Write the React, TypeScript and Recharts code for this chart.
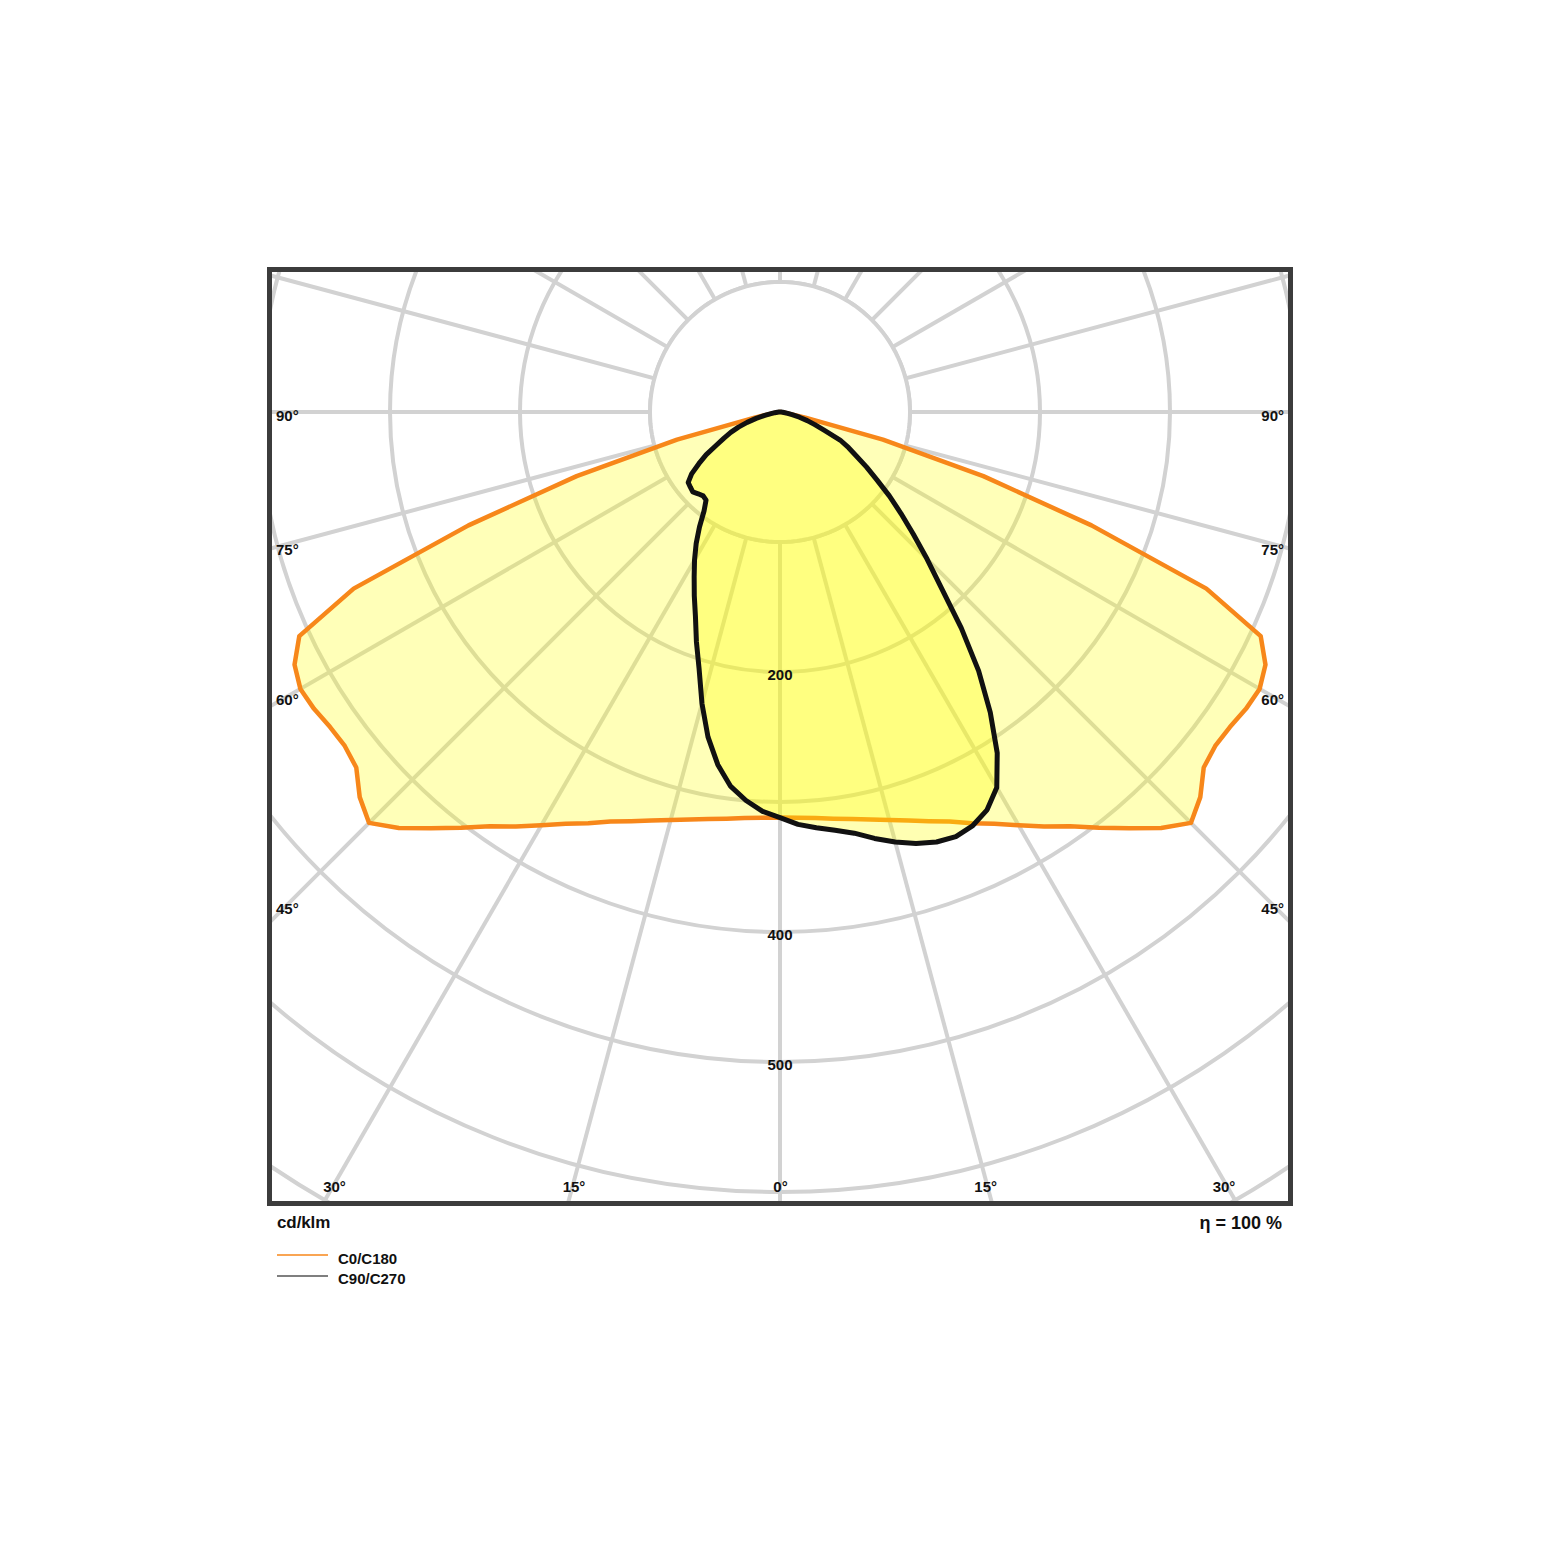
import React from 'react'
import { RadarChart, Radar, PolarGrid, PolarAngleAxis, PolarRadiusAxis } from 'recharts'

// luminous intensity in cd/klm, gamma 0..180 in 2.5 deg steps (0 = nadir)
const gammaStep = 2.5

// C0 half plane (drawn to the left) and C180 (to the right): symmetric
const c0 = [
  312, 312.5, 313.5, 315.5, 318, 321, 325, 329.5, 335, 341, 349, 357, 367, 378, 389, 403, 418, 434,
  447, 438.5, 425.5, 422, 422.5, 425, 426, 421, 408, 355, 255, 164, 82, 20, 6, 3, 1, 0, 0,
  0, 0, 0, 0, 0, 0, 0, 0, 0, 0, 0, 0, 0, 0, 0, 0, 0, 0, 0, 0, 0, 0, 0, 0, 0, 0, 0, 0, 0, 0, 0, 0, 0, 0, 0, 0,
]
const c180 = c0

// C90 half plane (left) and C270 (right)
const c90 = [
  312, 307.5, 300, 290.5, 275.5, 256, 232, 207, 188, 170, 156, 143, 131.5, 120, 108, 96, 88.5, 87.5,
  89, 91, 90, 89, 83, 74, 65.5, 55, 47.5, 41, 34, 26.5, 19, 12, 7, 4, 2, 1, 0,
  0, 0, 0, 0, 0, 0, 0, 0, 0, 0, 0, 0, 0, 0, 0, 0, 0, 0, 0, 0, 0, 0, 0, 0, 0, 0, 0, 0, 0, 0, 0, 0, 0, 0, 0, 0,
]
const c270 = [
  312, 317.5, 321, 324.5, 329, 336, 342.5, 348, 352, 353.5, 351, 345, 333.5, 311, 282, 251, 217, 184,
  160, 139, 121.5, 106, 91, 79, 68, 59.5, 51, 37, 28.5, 22, 15.5, 9.5, 6, 3, 2, 1, 0,
  0, 0, 0, 0, 0, 0, 0, 0, 0, 0, 0, 0, 0, 0, 0, 0, 0, 0, 0, 0, 0, 0, 0, 0, 0, 0, 0, 0, 0, 0, 0, 0, 0, 0, 0, 0,
]

const rayAngles = [0, 15, 30, 45, 60, 75, 90, 105, 120, 135, 150, 165, 180, 195, 210, 225, 240, 255, 270, 285, 300, 315, 330, 345]
const radiusMax = 700
const innerRing = 100
const radiusLabels = [200, 400, 500]
const sideLabels = ['90°', '75°', '60°', '45°']
const bottomLabels = ['30°', '15°', '0°', '15°', '30°']

const rows = Array.from({ length: 144 }, (_, i) => {
  const left = i <= 72
  const j = left ? i : 144 - i
  return {
    gamma: i * gammaStep,
    ring: innerRing,
    c0c180: left ? c0[j] : c180[j],
    c90c270: left ? c90[j] : c270[j],
  }
})

const font = '"Liberation Sans", Arial, Helvetica, sans-serif'
const ORANGE = '#f7871a'
const GRID = '#d2d2d2'

// nadir at the bottom, gamma grows clockwise: recharts angle = -90 - gamma
const toChartAngle = (g: number) => -90 - g

const sideY = [415, 549, 699, 908]
const bottomX = [334.5, 574, 780.5, 985.7, 1224]

function RadiusTick(props: any) {
  const v = props.payload?.value
  if (!radiusLabels.includes(v)) return <g />
  return (
    <text
      x={props.x}
      y={props.y + 2}
      textAnchor="middle"
      dominantBaseline="central"
      fontFamily={font}
      fontWeight="bold"
      fontSize={15}
      fill="#111"
    >
      {v}
    </text>
  )
}

export default function App() {
  return (
    <div style={{ position: 'relative', width: 1544, height: 1440 }}>
      <div style={{ position: 'absolute', left: 264, top: 264, width: 1016, height: 929 }}>
        <RadarChart
          width={1016}
          height={929}
          data={rows}
          cx={508}
          cy={140}
          outerRadius={910}
          startAngle={-90}
          endAngle={-450}
          margin={{ top: 0, right: 0, bottom: 0, left: 0 }}
        >
          <PolarGrid
            gridType="circle"
            polarAngles={rayAngles.map(toChartAngle)}
            stroke={GRID}
            strokeWidth={4}
          />
          <PolarAngleAxis dataKey="gamma" tick={false} axisLine={false} tickLine={false} />
          <PolarRadiusAxis
            type="number"
            domain={[0, radiusMax]}
            tickCount={8}
            angle={-90}
            axisLine={false}
            tick={RadiusTick}
          />
          <Radar
            dataKey="ring"
            stroke={GRID}
            strokeWidth={4}
            fill="#ffffff"
            fillOpacity={1}
            dot={false}
            isAnimationActive={false}
          />
          <Radar
            dataKey="c0c180"
            stroke={ORANGE}
            strokeWidth={4.5}
            strokeLinejoin="round"
            fill="#ffff00"
            fillOpacity={0.28}
            dot={false}
            isAnimationActive={false}
          />
          <Radar
            dataKey="c90c270"
            stroke="#111111"
            strokeWidth={5}
            strokeLinejoin="round"
            fill="#ffff00"
            fillOpacity={0.3}
            dot={false}
            isAnimationActive={false}
          />
        </RadarChart>
      </div>
      <div
        style={{
          position: 'absolute',
          left: 259,
          top: 259,
          width: 1026,
          height: 939,
          border: '5px solid #3c3c3c',
          boxSizing: 'border-box',
        }}
      />
      <svg
        width={1544}
        height={1440}
        style={{ position: 'absolute', left: 0, top: 0, pointerEvents: 'none' }}
      >
        <g transform="translate(-8,-8)" fontFamily={font} fontWeight="bold" fill="#111">
          {sideLabels.map((t, i) => (
            <text key={'l' + i} x={276} y={sideY[i]} fontSize={15} dominantBaseline="central">
              {t}
            </text>
          ))}
          {sideLabels.map((t, i) => (
            <text key={'r' + i} x={1284} y={sideY[i]} fontSize={15} textAnchor="end" dominantBaseline="central">
              {t}
            </text>
          ))}
          {bottomLabels.map((t, i) => (
            <text
              key={'b' + i}
              x={bottomX[i]}
              y={1186}
              fontSize={15}
              textAnchor="middle"
              dominantBaseline="central"
            >
              {t}
            </text>
          ))}
          <text x={277} y={1222} fontSize={17} letterSpacing={-0.1} dominantBaseline="central">
            cd/klm
          </text>
          <text x={1282} y={1223} fontSize={18} textAnchor="end" dominantBaseline="central">
            η = 100 %
          </text>
          <line x1={277} x2={328} y1={1255} y2={1255} stroke={ORANGE} strokeWidth={1.5} />
          <text x={338} y={1258} fontSize={15} dominantBaseline="central">
            C0/C180
          </text>
          <line x1={277} x2={328} y1={1276} y2={1276} stroke="#555" strokeWidth={1.5} />
          <text x={338} y={1278} fontSize={15} dominantBaseline="central">
            C90/C270
          </text>
        </g>
      </svg>
    </div>
  )
}
